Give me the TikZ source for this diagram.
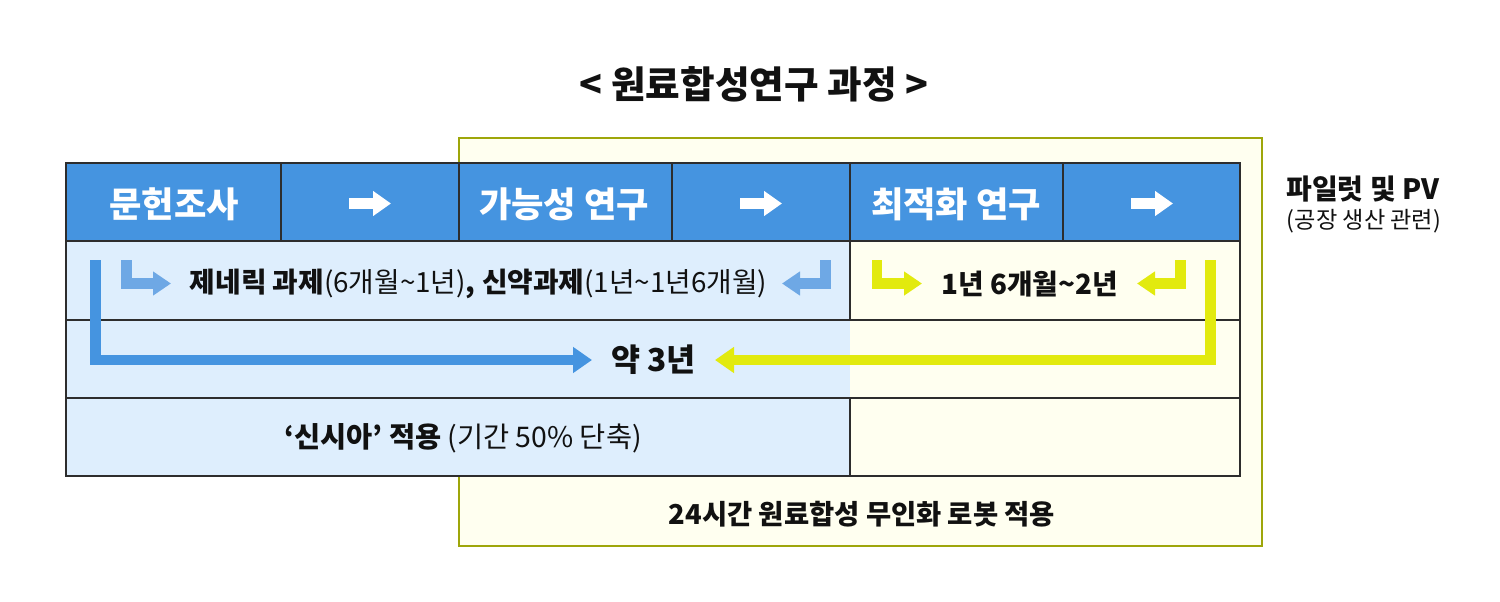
\documentclass[tikz,border=0pt]{standalone}
\usepackage{fontspec}
\setmainfont{Noto Sans CJK KR}
\usetikzlibrary{arrows.meta}
\definecolor{hdrblue}{RGB}{69,148,224}
\definecolor{lightblue}{RGB}{222,238,253}
\definecolor{cream}{RGB}{255,255,240}
\definecolor{olive}{RGB}{158,166,10}
\definecolor{yelarrow}{RGB}{226,234,14}
\definecolor{smallblue}{RGB}{110,168,229}
\definecolor{gridline}{RGB}{45,45,45}
\definecolor{txt}{RGB}{17,17,17}
\tikzset{
  outerline/.style={draw=gridline, line width=1.4pt},
  innerline/.style={draw=gridline, line width=0.9pt},
  thinline/.style={draw=gridline, line width=0.7pt},
  hdrtext/.style={text=white, font=\fontsize{17.6}{19}\selectfont\bfseries, inner sep=0pt},
  bodytext/.style={text=txt, inner sep=0pt},
  bigarrow/.style={line width=5.3pt, -{Triangle[length=9.5pt,width=12.5pt]}},
  smallarrow/.style={line width=5.3pt, -{Triangle[length=9pt,width=11.5pt]}},
  hdrarrow/.style={white, line width=5.3pt, -{Triangle[length=9pt,width=12pt]}}
}
\begin{document}
\begin{tikzpicture}[x=0.5pt,y=-0.5pt]
\useasboundingbox (0,0) rectangle (1500,601);
% background yellow box
\draw[draw=olive, fill=cream, line width=1.1pt] (459,138) rectangle (1262,546);
% table fills
\fill[hdrblue] (66,163) rectangle (1240,241);
\fill[lightblue] (66,241) rectangle (850,476);
\fill[cream] (850,241) rectangle (1240,476);
% grid lines
\draw[innerline] (66,241) -- (1240,241);
\draw[thinline] (66,320) -- (1240,320);
\draw[thinline] (66,398) -- (1240,398);
\foreach \xx in {281,459,672,850,1063} \draw[innerline] (\xx,163) -- (\xx,241);
\draw[thinline] (850,241) -- (850,320);
\draw[thinline] (850,398) -- (850,476);
\draw[outerline] (66,163) rectangle (1240,476);
% title
\node[bodytext, font=\fontsize{18.8}{21}\selectfont\bfseries] (title) at (754,84) {< 원료합성연구 과정 >};
% header texts
\node[hdrtext] (h1) at (174,204) {문헌조사};
\node[hdrtext] (h2) at (564,204) {가능성 연구};
\node[hdrtext] (h3) at (956,204) {최적화 연구};
% header arrows
\coordinate (ha1s) at (349,203.5); \coordinate (ha1e) at (391,203.5);
\coordinate (ha2s) at (740,203.5); \coordinate (ha2e) at (782,203.5);
\coordinate (ha3s) at (1131,203.5); \coordinate (ha3e) at (1173,203.5);
\draw[hdrarrow] (ha1s) -- (ha1e);
\draw[hdrarrow] (ha2s) -- (ha2e);
\draw[hdrarrow] (ha3s) -- (ha3e);
% row 2 texts
\node[bodytext, font=\fontsize{13.9}{16}\selectfont] (r2a) at (478.5,284)
  {{\bfseries 제네릭 과제}(6개월\textasciitilde 1년){\bfseries , 신약과제}(1년\textasciitilde 1년6개월)};
\node[bodytext, font=\fontsize{13.9}{16}\selectfont\bfseries] (r2b) at (1029.5,284) {1년 6개월\textasciitilde 2년};
% small arrows
\coordinate (sb1s) at (126.5,260); \coordinate (sb1e) at (171,283.5);
\draw[smallarrow, smallblue] (sb1s) |- (sb1e);
\coordinate (sb2s) at (825.5,260); \coordinate (sb2e) at (782,283.5);
\draw[smallarrow, smallblue] (sb2s) |- (sb2e);
\coordinate (sy1s) at (877,260); \coordinate (sy1e) at (922,283.5);
\draw[smallarrow, yelarrow] (sy1s) |- (sy1e);
\coordinate (sy2s) at (1180.5,260); \coordinate (sy2e) at (1137,283.5);
\draw[smallarrow, yelarrow] (sy2s) |- (sy2e);
% row 3
\node[bodytext, font=\fontsize{15.8}{18}\selectfont\bfseries] (yak) at (653.5,360) {약 3년};
\coordinate (bbs) at (95.5,260); \coordinate (bbe) at (592,360);
\draw[bigarrow, hdrblue] (bbs) |- (bbe);
\coordinate (bys) at (1210.5,260); \coordinate (bye) at (715,360);
\draw[bigarrow, yelarrow] (bys) |- (bye);
% row 4
\node[bodytext, font=\fontsize{14.2}{16}\selectfont] (r4) at (463,438)
  {{\bfseries ‘신시아’ 적용} (기간 50\% 단축)};
% bottom
\node[bodytext, font=\fontsize{13.7}{16}\selectfont\bfseries] (robot) at (862,514) {24시간 원료합성 무인화 로봇 적용};
% right side
\node[bodytext, font=\fontsize{14}{16}\selectfont\bfseries] (pilot) at (1363,189) {파일럿 및 PV};
\node[bodytext, font=\fontsize{11.6}{14}\selectfont] (pilot2) at (1364,221) {(공장 생산 관련)};
\end{tikzpicture}
\end{document}
